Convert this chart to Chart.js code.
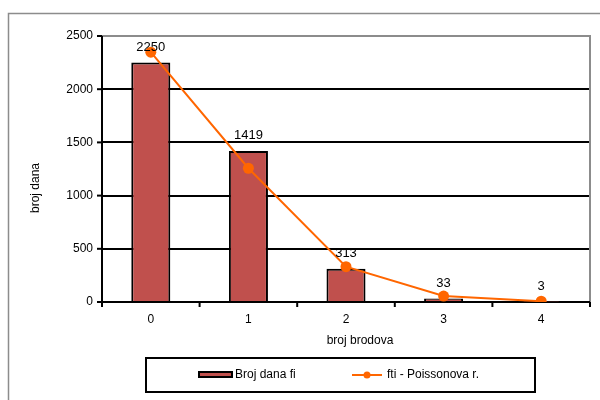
<!DOCTYPE html>
<html>
<head>
<meta charset="utf-8">
<script src="https://cdn.jsdelivr.net/npm/chart.js@4.4.0/dist/chart.umd.min.js"></script>
<style>
  html, body { margin: 0; padding: 0; background: #fff; }
  #wrap { width: 600px; height: 400px; position: relative; }
</style>
</head>
<body>
<div id="wrap"><canvas id="myChart" width="600" height="400"></canvas></div>
<script>
// podaci
const categories = ["0", "1", "2", "3", "4"];
const brojDana = [2250, 1419, 313, 33, 3];
const poisson = [2348, 1257, 332, 56, 7];
const yTicks = [0, 500, 1000, 1500, 2000, 2500];
const barLabel = "Broj dana fi";
const lineLabel = "fti - Poissonova r.";
const xTitle = "broj brodova";
const yTitle = "broj dana";

const FONT = "'Liberation Sans', Arial, sans-serif";

// okvir, naslovi osi, oznake i legenda
const extras = {
  id: 'extras',
  beforeDraw(chart) {
    const c = chart.ctx;
    c.save();
    c.strokeStyle = '#8c8c8c';
    c.lineWidth = 1.5;
    c.beginPath();
    c.moveTo(8.5, 400);
    c.lineTo(8.5, 13.5);
    c.lineTo(600, 13.5);
    c.stroke();
    c.restore();
  },
  beforeDatasetsDraw(chart) {
    const c = chart.ctx;
    const a = chart.chartArea;
    c.save();
    // sivi rub plot area
    c.strokeStyle = '#8c8c8c';
    c.lineWidth = 2;
    c.beginPath();
    c.moveTo(a.left, a.top);
    c.lineTo(a.right, a.top);
    c.lineTo(a.right, a.bottom);
    c.stroke();
    // osi
    c.strokeStyle = '#000';
    c.beginPath();
    c.moveTo(a.left, a.top);
    c.lineTo(a.left, a.bottom);
    c.lineTo(a.right, a.bottom);
    c.stroke();
    // crtice na y osi
    const y = chart.scales.y;
    yTicks.forEach(v => {
      const py = y.getPixelForValue(v);
      c.beginPath();
      c.moveTo(a.left - 5, py);
      c.lineTo(a.left, py);
      c.stroke();
    });
    // crtice na x osi (izmedu kategorija)
    const step = (a.right - a.left) / categories.length;
    for (let i = 0; i <= categories.length; i++) {
      const px = a.left + i * step;
      c.beginPath();
      c.moveTo(px, a.bottom);
      c.lineTo(px, a.bottom + 5);
      c.stroke();
    }
    c.restore();
  },
  afterDraw(chart) {
    const c = chart.ctx;
    c.save();
    // oznake vrijednosti stupaca
    const meta = chart.getDatasetMeta(1);
    c.fillStyle = '#000';
    c.font = '13px ' + FONT;
    c.textAlign = 'center';
    c.textBaseline = 'bottom';
    meta.data.forEach((bar, i) => {
      c.fillText(String(brojDana[i]), bar.x, bar.y - 9);
    });

    c.font = '12px ' + FONT;
    c.textBaseline = 'middle';
    c.fillText(xTitle, 360, 341);
    c.translate(36, 188);
    c.rotate(-Math.PI / 2);
    c.fillText(yTitle, 0, 0);
    c.restore();

    // legenda
    c.save();
    c.strokeStyle = '#000';
    c.lineWidth = 2;
    c.strokeRect(146, 358, 389, 34);
    // stupac
    c.fillStyle = '#C0504D';
    c.fillRect(199, 372, 33, 5);
    c.strokeRect(199, 372, 33, 5);
    c.fillStyle = '#000';
    c.font = '12px ' + FONT;
    c.textAlign = 'left';
    c.textBaseline = 'middle';
    c.fillText(barLabel, 235, 375);
    // linija
    c.strokeStyle = '#FF6600';
    c.lineWidth = 2;
    c.beginPath();
    c.moveTo(352, 375);
    c.lineTo(382, 375);
    c.stroke();
    c.fillStyle = '#FF6600';
    c.beginPath();
    c.arc(367, 375, 3.5, 0, Math.PI * 2);
    c.fill();
    c.fillStyle = '#000';
    c.fillText(lineLabel, 387, 375);
    c.restore();
  }
};

new Chart(document.getElementById('myChart'), {
  type: 'bar',
  data: {
    labels: categories,
    datasets: [
      {
        type: 'line',
        label: lineLabel,
        data: poisson,
        borderColor: '#FF6600',
        backgroundColor: '#FF6600',
        borderWidth: 2,
        pointRadius: 5.5,
        pointHoverRadius: 5.5,
        pointBorderWidth: 0,
        tension: 0,
        order: 0
      },
      {
        type: 'bar',
        label: barLabel,
        data: brojDana,
        backgroundColor: '#C0504D',
        borderColor: '#000000',
        borderWidth: 2,
        categoryPercentage: 0.4,
        barPercentage: 1,
        order: 1
      }
    ]
  },
  options: {
    responsive: false,
    animation: false,
    layout: { padding: { left: 0, right: 10, top: 36, bottom: 0 } },
    plugins: {
      legend: { display: false },
      tooltip: { enabled: false }
    },
    scales: {
      x: {
        grid: { display: false, drawTicks: false },
        border: { display: false },
        ticks: { color: '#000', font: { family: FONT, size: 12 }, padding: 10 },
        afterFit(scale) { scale.height = 98; }
      },
      y: {
        min: 0,
        max: 2500,
        afterBuildTicks(scale) { scale.ticks = yTicks.map(v => ({ value: v })); },
        grid: { color: '#000', lineWidth: 2, drawTicks: false },
        border: { display: false },
        ticks: {
          color: '#000',
          font: { family: FONT, size: 12 },
          padding: 9,
          callback: v => String(v)
        },
        afterFit(scale) { scale.width = 102; }
      }
    }
  },
  plugins: [extras]
});
</script>
</body>
</html>
